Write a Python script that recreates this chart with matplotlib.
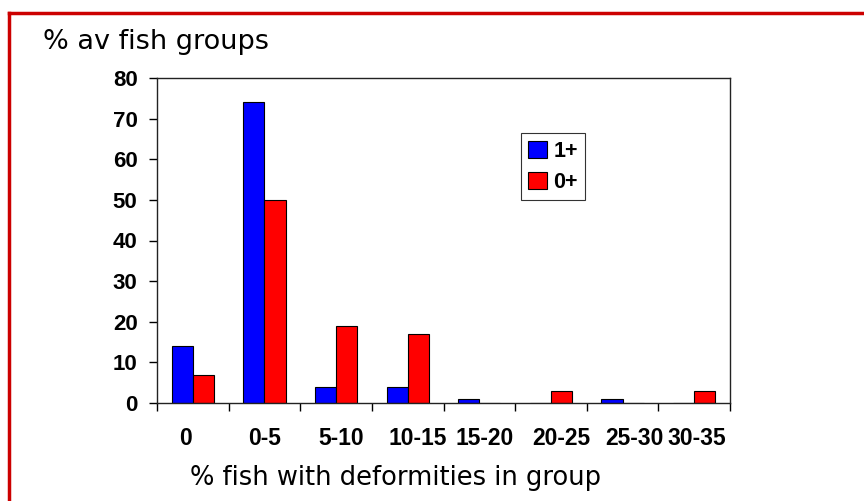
import matplotlib.pyplot as plt
import numpy as np
from matplotlib.lines import Line2D
from matplotlib.transforms import ScaledTranslation

# fish deformity groups
categories = ["0", "0-5", "5-10", "10-15", "15-20", "20-25", "25-30", "30-35"]
one_plus = [14, 74, 4, 4, 1, 0, 1, 0]
zero_plus = [7, 50, 19, 17, 0, 3, 0, 3]

fig = plt.figure(figsize=(8.64, 5.01), dpi=100)
ax = fig.add_axes([157 / 864, 1 - 403 / 501, (730 - 157) / 864, (403 - 78) / 501])

x = np.arange(len(categories))
w = 0.295
ax.bar(x - w / 2, one_plus, w, color="#0000ff", edgecolor="black", linewidth=0.8, label="1+")
ax.bar(x + w / 2, zero_plus, w, color="#ff0000", edgecolor="black", linewidth=0.8, label="0+")

ax.set_xlim(-0.5, len(categories) - 0.5)
ax.set_ylim(0, 80)
ax.set_yticks(range(0, 81, 10))
ax.set_xticks(x)
ax.set_xticklabels(categories)
ax.set_xticks(np.arange(-0.5, len(categories)), minor=True)
ax.tick_params(axis="x", which="major", length=0, pad=17)
ax.tick_params(axis="x", which="minor", length=6, width=1)
ax.tick_params(axis="y", length=6, width=1, pad=8)
for lab in ax.get_yticklabels():
    lab.set_fontfamily("Liberation Sans")
    lab.set_fontweight("bold")
    lab.set_fontsize(16)
# excel squeezes the crowded labels, nudge them a bit like the original
nudge = [-7, 0, 5, 10, 5, 10, 12, 3]
for lab, dx in zip(ax.get_xticklabels(), nudge):
    lab.set_fontfamily("Liberation Sans")
    lab.set_fontweight("bold")
    lab.set_fontsize(16.5)
    lab.set_transform(lab.get_transform() + ScaledTranslation(dx / 100, 0, fig.dpi_scale_trans))
for s in ax.spines.values():
    s.set_linewidth(1)
    s.set_color("#222222")

leg = ax.legend(loc="upper left", bbox_to_anchor=(0.635, 0.83), frameon=True, fancybox=False,
                edgecolor="black", handlelength=0.85, handleheight=0.85, handletextpad=0.3,
                borderpad=0.35, labelspacing=0.45, borderaxespad=0,
                prop={"family": "Liberation Sans", "weight": "bold", "size": 15.5})
leg.get_frame().set_linewidth(0.8)

fig.text(43 / 864, 1 - 42 / 501, "% av fish groups", fontsize=19.5, va="center", ha="left")
fig.text(190 / 864, 1 - 478 / 501, "% fish with deformities in group", fontsize=18.5, va="center", ha="left")

# red frame on the left and top
fig.add_artist(Line2D([9 / 864, 9 / 864], [0, 1 - 13 / 501], color="#cc0000", lw=2.5, transform=fig.transFigure))
fig.add_artist(Line2D([9 / 864, 1], [1 - 13 / 501, 1 - 13 / 501], color="#cc0000", lw=2.5, transform=fig.transFigure))

plt.savefig("out.png", dpi=100)
